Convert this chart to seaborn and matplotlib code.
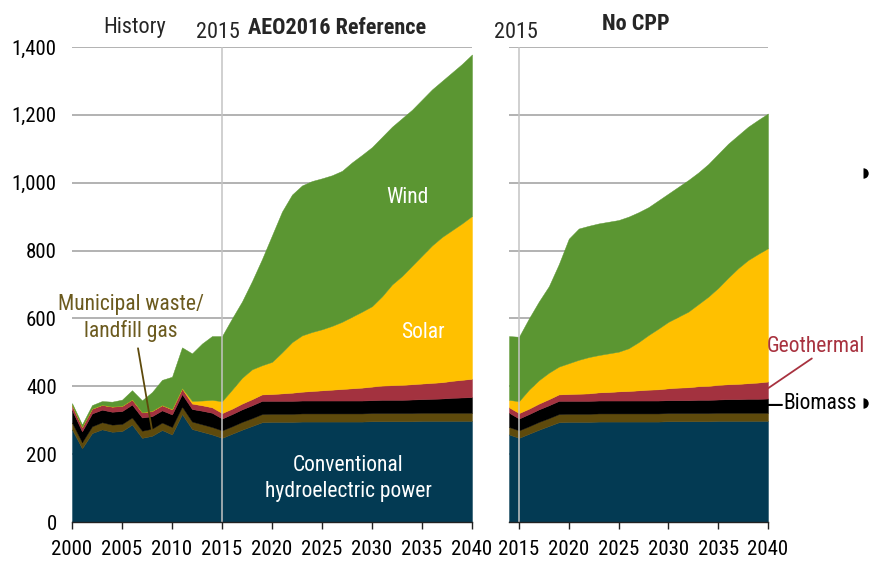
import matplotlib
matplotlib.use("Agg")
import matplotlib.pyplot as plt
import numpy as np
import seaborn as sns
from matplotlib import font_manager
from matplotlib.lines import Line2D
from matplotlib.ticker import FuncFormatter

sns.set_theme(style="white")

# narrow face if one is installed, otherwise Liberation Sans at a smaller size
_names = {f.name for f in font_manager.fontManager.ttflist}
NARROW = next((n for n in ["Liberation Sans Narrow", "Arial Narrow", "DejaVu Sans Condensed",
                           "Roboto Condensed", "Open Sans Condensed", "Noto Sans Condensed"]
               if n in _names), None)
if NARROW:
    plt.rcParams["font.family"] = [NARROW, "Liberation Sans", "DejaVu Sans"]
    SCALE = 1.0
else:
    plt.rcParams["font.family"] = ["Liberation Sans", "DejaVu Sans"]
    SCALE = 0.84

# --------------------------------------------------------------------------
# Data (billion kWh)
# --------------------------------------------------------------------------
HIST_YEARS = np.arange(2000, 2015)
PROJ_YEARS = np.arange(2015, 2041)

# History 2000-2014
HYDRO_HIST = [273, 217, 262, 273, 266, 268, 287, 248, 254, 271, 258, 318, 274, 266, 258]
MSW_HIST = [20, 18, 20, 21, 21, 21, 21, 21, 21, 22, 22, 22, 22, 22, 22]
BIOMASS_HIST = [37, 32, 38, 37, 38, 38, 38, 39, 37, 36, 37, 37, 37, 40, 42]
GEO_HIST = [14, 13, 14, 14, 15, 15, 15, 15, 15, 15, 15, 16, 16, 16, 16]
SOLAR_HIST = [0.5, 0.5, 0.6, 0.5, 0.6, 0.6, 0.5, 0.6, 0.9, 0.9, 1.2, 1.8, 8, 14, 22]
WIND_HIST = [6, 7, 10, 11, 14, 18, 27, 35, 55, 74, 95, 120, 140, 168, 188]

# AEO2016 Reference, 2015-2040
HYDRO_REF = [248, 260, 272, 283, 294, 295, 295, 295, 296, 296, 296, 296, 296,
             296, 296, 297, 297, 297, 297, 297, 298, 298, 298, 298, 298, 298]
MSW_REF = [22, 22, 23, 23, 24, 24, 24, 24, 24, 24, 24, 24, 24,
           24, 24, 24, 24, 24, 24, 24, 24, 24, 24, 24, 24, 24]
BIOMASS_REF = [35, 36, 37, 38, 39, 38, 38, 38, 38, 38, 38, 38, 38,
               38, 38, 38, 39, 39, 39, 40, 40, 41, 42, 44, 45, 46]
GEO_REF = [16, 16, 17, 18, 19, 20, 22, 24, 26, 28, 30, 32, 34,
           36, 38, 40, 42, 43, 44, 45, 46, 47, 48, 50, 52, 54]
SOLAR_REF = [35, 56, 76, 88, 86, 95, 121, 149, 166, 174, 180, 188, 198,
             211, 224, 237, 263, 297, 321, 349, 377, 405, 428, 444, 461, 480]
WIND_REF = [192, 210, 225, 260, 313, 373, 415, 435, 442, 445, 445, 444, 445,
            455, 462, 469, 470, 465, 465, 460, 460, 460, 460, 465, 470, 476]

# No CPP, 2015-2040
HYDRO_NOCPP = [248, 260, 272, 283, 294, 295, 295, 295, 296, 296, 296, 296, 296,
               296, 296, 297, 297, 297, 297, 297, 298, 298, 298, 298, 298, 298]
MSW_NOCPP = [22, 22, 23, 23, 24, 24, 24, 24, 24, 24, 24, 24, 24,
             24, 24, 24, 24, 24, 24, 24, 24, 24, 24, 24, 24, 24]
BIOMASS_NOCPP = [35, 36, 37, 38, 39, 38, 38, 38, 38, 38, 38, 38, 38,
                 38, 38, 38, 38, 38, 39, 39, 39, 40, 40, 41, 41, 42]
GEO_NOCPP = [16, 16, 17, 18, 19, 20, 21, 22, 24, 25, 27, 28, 30,
             32, 33, 35, 37, 38, 40, 41, 43, 44, 45, 46, 48, 50]
SOLAR_NOCPP = [35, 56, 69, 78, 82, 91, 100, 107, 110, 114, 117, 126, 142,
               161, 179, 196, 209, 223, 242, 263, 286, 314, 341, 363, 379, 393]
WIND_NOCPP = [190, 210, 232, 255, 302, 367, 387, 387, 388, 388, 388, 388, 383,
              377, 378, 378, 383, 388, 388, 391, 395, 395, 392, 393, 395, 397]

COLORS = ["#033A53", "#5E4A0C", "#000000", "#A3323F", "#FFC000", "#5B9632"]
GRID = "#A6A6A6"
MSW_TEXT = "#6B5A1E"
GEO_TEXT = "#A8323F"

hist = [HYDRO_HIST, MSW_HIST, BIOMASS_HIST, GEO_HIST, SOLAR_HIST, WIND_HIST]
ref = [HYDRO_REF, MSW_REF, BIOMASS_REF, GEO_REF, SOLAR_REF, WIND_REF]
nocpp = [HYDRO_NOCPP, MSW_NOCPP, BIOMASS_NOCPP, GEO_NOCPP, SOLAR_NOCPP, WIND_NOCPP]

TICK_FS = 15 * SCALE
HEAD_FS = 16 * SCALE
LAB_FS = 15.5 * SCALE

# --------------------------------------------------------------------------
# Figure scaffold (pixel-matched to 873x561)
# --------------------------------------------------------------------------
W, H = 873, 561
fig = plt.figure(figsize=(W / 100, H / 100), dpi=100)
bottom, height = 1 - 522 / H, 475 / H
axL = fig.add_axes([72 / W, bottom, 400 / W, height])
axR = fig.add_axes([509 / W, bottom, 259 / W, height])

left_years = np.concatenate([HIST_YEARS, PROJ_YEARS])
left_layers = [np.array(h + r, dtype=float) for h, r in zip(hist, ref)]
right_years = np.concatenate([[HIST_YEARS[-1]], PROJ_YEARS])
right_layers = [np.array([h[-1]] + n, dtype=float) for h, n in zip(hist, nocpp)]

for ax, yrs, layers in [(axL, left_years, left_layers), (axR, right_years, right_layers)]:
    ax.stackplot(yrs, *layers, colors=COLORS, edgecolor="face", linewidth=0.3, zorder=2)
    ax.set_ylim(0, 1400)
    ax.set_yticks(np.arange(0, 1401, 200))
    ax.yaxis.grid(True, color=GRID, linewidth=1.2)
    ax.xaxis.grid(False)
    ax.set_axisbelow(True)
    ax.axvline(2015, color="#C4C4C4", linewidth=1.1, zorder=4)
    for s in ("left", "right", "top"):
        ax.spines[s].set_visible(False)
    ax.spines["bottom"].set_color("#222222")
    ax.spines["bottom"].set_linewidth(1.0)
    ax.spines["bottom"].set_zorder(5)
    ax.tick_params(axis="x", bottom=True, direction="out", length=5, width=1,
                   color="#222222", pad=8, labelsize=TICK_FS, labelcolor="black")
    ax.tick_params(axis="y", left=False, length=0, pad=11, labelsize=TICK_FS,
                   labelcolor="black")
    ax.set_facecolor("none")

axL.set_xlim(2000, 2040)
axL.set_xticks(np.arange(2000, 2041, 5))
axL.yaxis.set_major_formatter(FuncFormatter(lambda v, _: f"{v:,.0f}"))

axR.set_xlim(2014, 2040)
axR.set_xticks(np.arange(2015, 2041, 5))
axR.set_yticklabels([])

# --------------------------------------------------------------------------
# Headers
# --------------------------------------------------------------------------
axL.text(2006.3, 1456, "History", ha="center", va="center", fontsize=HEAD_FS)
axL.text(2014.6, 1444, "2015", ha="center", va="center", fontsize=HEAD_FS)
axL.text(2026.55, 1455, "AEO2016 Reference", ha="center", va="center",
         fontsize=HEAD_FS, fontweight="bold")
axR.text(2014.7, 1444, "2015", ha="center", va="center", fontsize=HEAD_FS)
axR.text(2026.7, 1468, "No CPP", ha="center", va="center",
         fontsize=HEAD_FS, fontweight="bold")

# --------------------------------------------------------------------------
# Layer labels
# --------------------------------------------------------------------------
axL.text(2033.55, 956, "Wind", ha="center", va="center", fontsize=LAB_FS, color="white")
axL.text(2035.05, 559, "Solar", ha="center", va="center", fontsize=LAB_FS, color="white")
axL.text(2027.6, 128, "Conventional\nhydroelectric power", ha="center", va="center",
         fontsize=LAB_FS, color="white", linespacing=1.3)
axL.text(2005.9, 600, "Municipal waste/\nlandfill gas", ha="center", va="center",
         fontsize=LAB_FS, color=MSW_TEXT, linespacing=1.3)
axL.annotate("", xy=(2008.0, 271), xytext=(2006.6, 512),
             arrowprops=dict(arrowstyle="-", color="#5E4A0C", lw=1.3,
                             shrinkA=0, shrinkB=0), zorder=6)

axR.text(2044.8, 516, "Geothermal", ha="center", va="center", fontsize=LAB_FS, color=GEO_TEXT)
axR.annotate("", xy=(2040.0, 394), xytext=(2044.4, 482),
             arrowprops=dict(arrowstyle="-", color=GEO_TEXT, lw=1.3,
                             shrinkA=0, shrinkB=0), annotation_clip=False)
axR.text(2041.5, 350, "Biomass", ha="left", va="center", fontsize=LAB_FS, color="black")
axR.annotate("", xy=(2040.0, 345), xytext=(2041.4, 345),
             arrowprops=dict(arrowstyle="-", color="black", lw=1.5,
                             shrinkA=0, shrinkB=0), annotation_clip=False)

# slide bullet remnants at the right edge
for py in (173, 403):
    fig.add_artist(Line2D([863 / W], [1 - py / H], marker="o", markersize=7.5,
                          fillstyle="right", color="black", markeredgewidth=0,
                          linestyle="none", transform=fig.transFigure))

fig.savefig("out.png", dpi=100)
